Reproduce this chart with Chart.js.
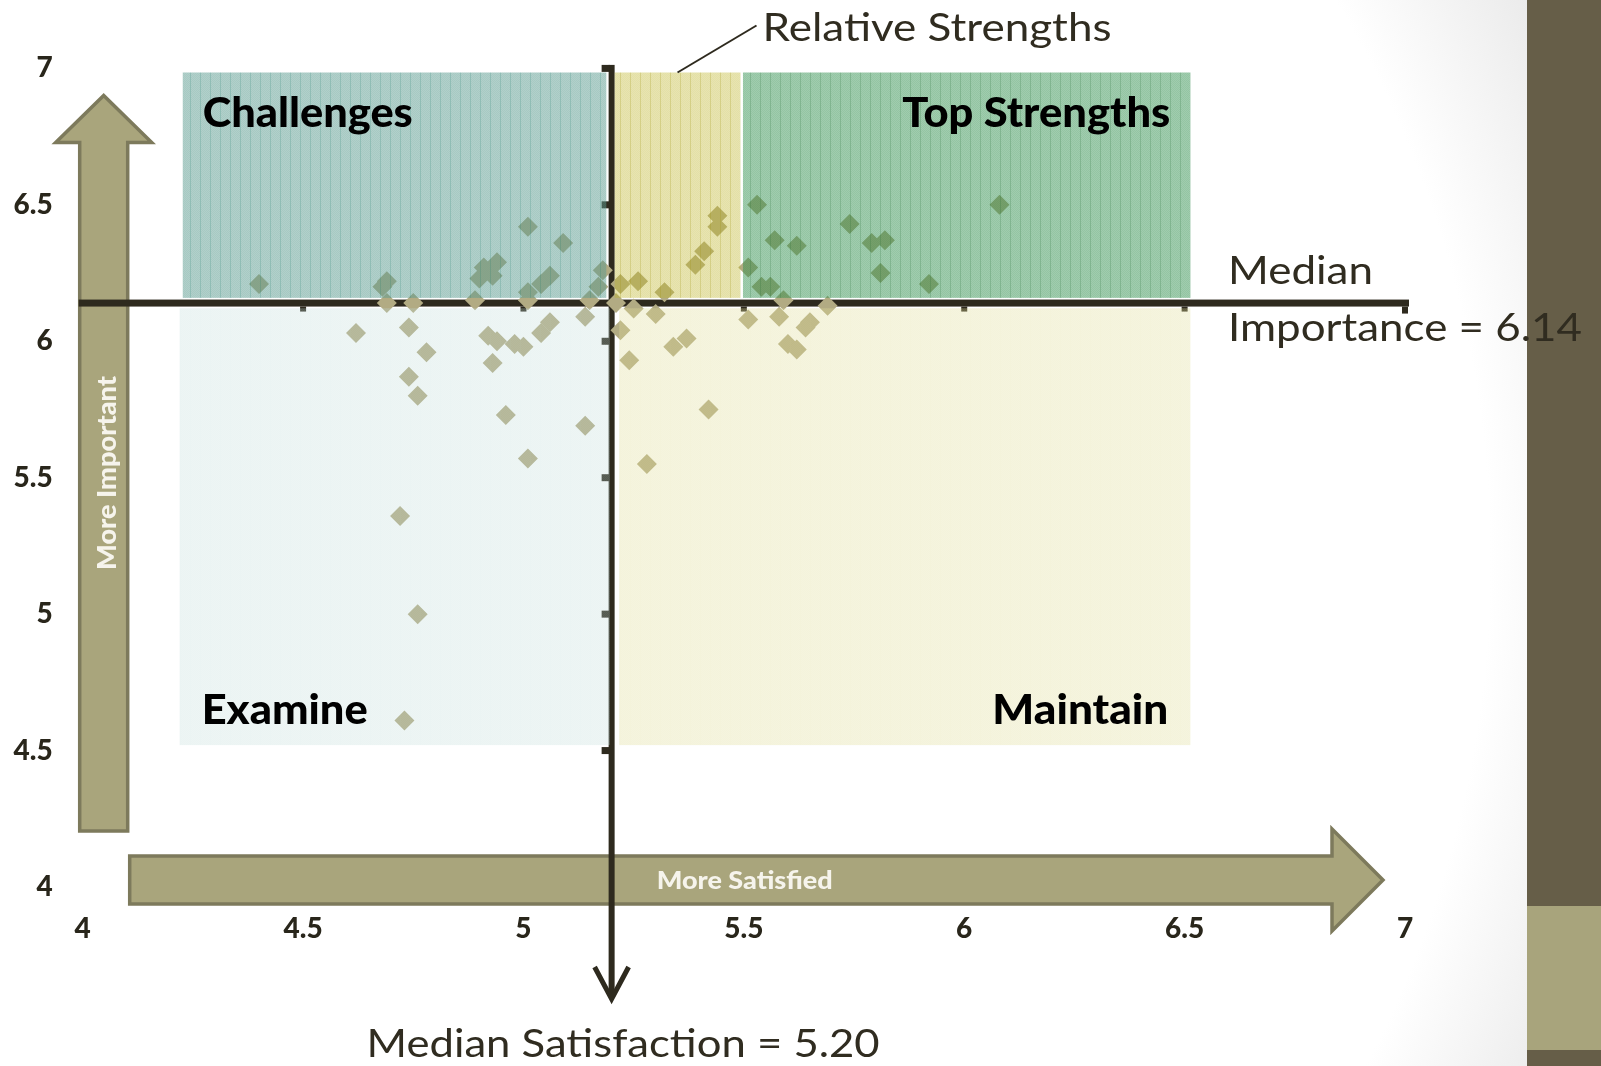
<!DOCTYPE html>
<html>
<head>
<meta charset="utf-8">
<title>Importance vs. Satisfaction</title>
<script src="https://cdn.jsdelivr.net/npm/chart.js@4.4.1/dist/chart.umd.min.js"></script>
<style>
  html, body { margin: 0; padding: 0; }
  body {
    width: 1601px; height: 1066px; overflow: hidden; position: relative;
    background: radial-gradient(circle at 400px 560px, #ffffff 1090px, #e6e6e6 1300px);
  }
  #sideBar { position: absolute; left: 1527px; top: 0; width: 74px; height: 1066px; background: #665e48; }
  #sideBar .band { position: absolute; left: 0; top: 906px; width: 74px; height: 144px; background: #a8a47c; }
  #wrap { position: absolute; left: 0; top: 0; width: 1601px; height: 1066px; }
  canvas { display: block; }
</style>
</head>
<body>
<div id="sideBar"><div class="band"></div></div>
<div id="wrap"><canvas id="chart" width="1601" height="1066"></canvas></div>
<script>
// ---- data -------------------------------------------------------------
// one entry per survey item: mean satisfaction (x) and mean importance (y)
const satisfaction = [
  4.40, 4.69, 4.68, 5.01, 5.09, 4.91, 4.94, 4.93, 4.90, 5.06, 5.04, 5.01, 5.18, 5.17, 5.15,
  4.69, 4.75, 4.89, 5.01, 5.21, 5.25, 5.30, 5.69, 5.59, 5.32,
  5.44, 5.44, 5.41, 5.39, 5.26, 5.22,
  5.53, 5.57, 5.62, 5.74, 5.79, 5.82, 5.81, 5.92, 6.08, 5.51, 5.54, 5.56,
  5.51, 5.58, 5.65, 5.64, 5.60, 5.62, 5.22, 5.24, 5.34, 5.37, 5.42, 5.28,
  4.62, 4.74, 4.78, 4.92, 4.94, 4.93, 4.98, 5.00, 5.04, 5.06, 5.14, 4.74, 4.76, 4.96, 5.14,
  5.01, 4.72, 4.76, 4.73
];
const importance = [
  6.21, 6.22, 6.20, 6.42, 6.36, 6.27, 6.29, 6.24, 6.23, 6.24, 6.21, 6.18, 6.26, 6.20, 6.15,
  6.14, 6.14, 6.15, 6.15, 6.14, 6.12, 6.10, 6.13, 6.15, 6.18,
  6.46, 6.42, 6.33, 6.28, 6.22, 6.21,
  6.50, 6.37, 6.35, 6.43, 6.36, 6.37, 6.25, 6.21, 6.50, 6.27, 6.20, 6.20,
  6.08, 6.09, 6.07, 6.05, 5.99, 5.97, 6.04, 5.93, 5.98, 6.01, 5.75, 5.55,
  6.03, 6.05, 5.96, 6.02, 6.00, 5.92, 5.99, 5.98, 6.03, 6.07, 6.09, 5.87, 5.80, 5.73, 5.69,
  5.57, 5.36, 5.00, 4.61
];
const xTickValues = [4, 4.5, 5, 5.5, 6, 6.5, 7];
const yTickValues = [4, 4.5, 5, 5.5, 6, 6.5, 7];
const medianSatisfaction = 5.20;
const medianImportance = 6.14;

// quadrant zones (in satisfaction / importance units)
const zoneNames = ['Challenges', 'Relative Strengths', 'Top Strengths', 'Examine', 'Maintain'];
const zoneXMin  = [4.227, 5.207, 5.498, 4.220, 5.217];
const zoneXMax  = [5.188, 5.492, 6.513, 5.196, 6.513];
const zoneYMin  = [6.159, 6.159, 6.159, 4.520, 4.520];
const zoneYMax  = [6.985, 6.985, 6.985, 6.121, 6.121];

// ---- styling ----------------------------------------------------------
const INK = '#2e2a1e';
const TEXT_DARK = '#302c20';
const ARROW_FILL = '#a9a57c';
const ARROW_EDGE = '#7d7a5c';
const POINT_COLOR = '#b2ab83';
const FONT = 'Lato, "Open Sans", sans-serif';
const HEAVY = '900';

// translucent hatched fills laid over the points: [base, lighter dither, stripe]
const zoneFills = [
  ['rgba(92,156,144,0.54)',  'rgba(92,156,144,0.48)',  'rgba(70,145,132,0.60)'],
  ['rgba(191,182,44,0.42)',  'rgba(191,182,44,0.37)',  'rgba(176,166,32,0.54)'],
  ['rgba(45,141,75,0.51)',   'rgba(45,141,75,0.45)',   'rgba(38,128,64,0.58)'],
  ['rgba(192,218,215,0.31)', 'rgba(192,218,215,0.27)', 'rgba(192,218,215,0.31)'],
  ['rgba(224,220,153,0.35)', 'rgba(224,220,153,0.31)', 'rgba(224,220,153,0.35)']
];

function zonePattern(ctx, fill) {
  const c = document.createElement('canvas');
  c.width = 10; c.height = 2;
  const g = c.getContext('2d');
  for (let y = 0; y < 2; y++) {
    for (let x = 0; x < 10; x++) {
      g.fillStyle = x === 0 ? fill[2] : ((x + y) % 2 ? fill[1] : fill[0]);
      g.fillRect(x, y, 1, 1);
    }
  }
  return ctx.createPattern(c, 'repeat');
}

// draws text squeezed/stretched to a given width, left edge at x
function fitText(ctx, text, x, baseline, width, size, weight, color) {
  ctx.save();
  ctx.font = `${weight} ${size}px ${FONT}`;
  const w = ctx.measureText(text).width || 1;
  ctx.translate(x, baseline);
  ctx.scale(width / w, 1);
  ctx.textAlign = 'left';
  ctx.textBaseline = 'alphabetic';
  ctx.fillStyle = color;
  ctx.fillText(text, 0, 0);
  ctx.restore();
}

function polygon(ctx, pts) {
  ctx.beginPath();
  pts.forEach((p, i) => (i ? ctx.lineTo(p[0], p[1]) : ctx.moveTo(p[0], p[1])));
  ctx.closePath();
}

function blockArrow(ctx, pts) {
  ctx.save();
  polygon(ctx, pts);
  ctx.fillStyle = ARROW_FILL;
  ctx.fill();
  ctx.lineWidth = 3.5;
  ctx.lineJoin = 'miter';
  ctx.strokeStyle = ARROW_EDGE;
  ctx.stroke();
  ctx.restore();
}

// ---- background layer: direction arrows, median axes ------------------
const quadrantBackdrop = {
  id: 'quadrantBackdrop',
  beforeDatasetsDraw(chart) {
    const { ctx, chartArea: a, scales: { x: xs, y: ys } } = chart;
    const L = a.left, R = a.right, T = a.top, B = a.bottom;

    // "More Important" arrow, pointing up
    blockArrow(ctx, [
      [L + 21, T + 27], [L + 69, T + 74], [L + 45, T + 74], [L + 45, B - 56],
      [L - 3, B - 56], [L - 3, T + 74], [L - 27, T + 74]
    ]);
    // "More Satisfied" arrow, pointing right
    blockArrow(ctx, [
      [L + 47, B - 31], [R - 73, B - 31], [R - 73, B - 58], [R - 22, B - 7],
      [R - 73, B + 44], [R - 73, B + 17], [L + 47, B + 17]
    ]);

    const mx = xs.getPixelForValue(medianSatisfaction);
    const my = ys.getPixelForValue(medianImportance);
    const xEnd = xs.getPixelForValue(xTickValues[xTickValues.length - 1]);
    const yTop = ys.getPixelForValue(yTickValues[yTickValues.length - 1]);

    ctx.save();
    ctx.fillStyle = INK;
    // horizontal axis through the median importance
    ctx.fillRect(L - 4, my - 3.5, xEnd + 4 - (L - 4), 7);
    xTickValues.slice(1).forEach(v => {
      const px = xs.getPixelForValue(v);
      ctx.fillRect(px - 3, my + 3.5, 6, v === 7 ? 7 : 5);
    });
    // vertical axis through the median satisfaction, running on into a pointer
    const tipY = B + 114;
    ctx.fillRect(mx - 3, yTop - 3.5, 6, tipY - 4 - (yTop - 3.5));
    yTickValues.slice(1).forEach(v => {
      const py = ys.getPixelForValue(v);
      ctx.fillRect(mx - 10, py - 3.5, 8, 7);
    });
    ctx.strokeStyle = INK;
    ctx.lineWidth = 5;
    ctx.lineJoin = 'miter';
    ctx.lineCap = 'butt';
    ctx.beginPath();
    ctx.moveTo(mx - 17, tipY - 34);
    ctx.lineTo(mx, tipY - 2);
    ctx.lineTo(mx + 17, tipY - 34);
    ctx.stroke();
    ctx.restore();
  },

  // translucent quadrant panels over the points, then all annotations
  afterDatasetsDraw(chart) {
    const { ctx, chartArea: a, scales: { x: xs, y: ys } } = chart;
    const L = a.left, R = a.right, B = a.bottom;
    const mx = xs.getPixelForValue(medianSatisfaction);
    const my = ys.getPixelForValue(medianImportance);

    const boxes = zoneNames.map((_, i) => {
      const x0 = xs.getPixelForValue(zoneXMin[i]);
      const x1 = xs.getPixelForValue(zoneXMax[i]);
      const y0 = ys.getPixelForValue(zoneYMax[i]);
      const y1 = ys.getPixelForValue(zoneYMin[i]);
      return { x0, x1, y0, y1 };
    });

    ctx.save();
    boxes.forEach((b, i) => {
      ctx.fillStyle = zonePattern(ctx, zoneFills[i]);
      ctx.fillRect(b.x0, b.y0, b.x1 - b.x0, b.y1 - b.y0);
    });
    ctx.restore();

    // quadrant titles
    const bold = 41;
    let b = boxes[0];
    fitText(ctx, zoneNames[0], b.x0 + 20, b.y0 + 55, 210, bold, HEAVY, '#000');
    b = boxes[2];
    fitText(ctx, zoneNames[2], b.x1 - 20 - 268, b.y0 + 55, 268, bold, HEAVY, '#000');
    b = boxes[3];
    fitText(ctx, zoneNames[3], b.x0 + 22, b.y1 - 21.5, 166, bold, HEAVY, '#000');
    b = boxes[4];
    fitText(ctx, zoneNames[4], b.x1 - 22 - 176, b.y1 - 21.5, 176, bold, HEAVY, '#000');

    // callout for the narrow "Relative Strengths" band
    b = boxes[1];
    const cx = (b.x0 + b.x1) / 2;
    ctx.save();
    ctx.strokeStyle = INK;
    ctx.lineWidth = 2;
    ctx.beginPath();
    ctx.moveTo(cx, b.y0);
    ctx.lineTo(cx + 79, b.y0 - 47);
    ctx.stroke();
    ctx.restore();
    fitText(ctx, zoneNames[1], cx + 85, b.y0 - 31, 349, 38, 'normal', TEXT_DARK);

    // median captions
    fitText(ctx, 'Median', R - 177, my - 19, 145, 38, 'normal', TEXT_DARK);
    fitText(ctx, 'Importance = ' + medianImportance.toFixed(2), R - 177, my + 38, 354, 38, 'normal', TEXT_DARK);
    fitText(ctx, 'Median Satisfaction = ' + medianSatisfaction.toFixed(2), mx - 245, B + 169.5, 513, 38, 'normal', TEXT_DARK);

    // arrow captions
    fitText(ctx, 'More Satisfied', L + 574, B + 2, 176, 25, HEAVY, '#f6f4ec');
    ctx.save();
    ctx.translate(L + 33.5, 0);
    ctx.rotate(-Math.PI / 2);
    fitText(ctx, 'More Important', -(473 + 97), 0, 194, 26, HEAVY, '#f6f4ec');
    ctx.restore();
  }
};

function build() {
  const ctx = document.getElementById('chart').getContext('2d');
  const tickFont = { family: FONT, size: 28, weight: HEAVY };
  const tickLabel = v => String(Math.round(v * 10) / 10);
  new Chart(ctx, {
    type: 'scatter',
    data: {
      datasets: [{
        data: satisfaction.map((x, i) => ({ x, y: importance[i] })),
        pointStyle: 'rectRot',
        pointRadius: 10,
        pointHoverRadius: 10,
        backgroundColor: POINT_COLOR,
        borderWidth: 0
      }]
    },
    options: {
      responsive: false,
      animation: false,
      devicePixelRatio: 1,
      layout: { padding: { left: 12, right: 196, top: 68.4, bottom: 119 } },
      plugins: { legend: { display: false }, tooltip: { enabled: false } },
      events: [],
      scales: {
        x: {
          type: 'linear', min: 4, max: 7,
          afterBuildTicks: s => { s.ticks = xTickValues.map(v => ({ value: v })); },
          afterFit: s => { s.height = 60; },
          grid: { display: false, drawTicks: false },
          border: { display: false },
          ticks: { font: tickFont, color: '#29261b', padding: 25, maxRotation: 0, autoSkip: false, callback: tickLabel }
        },
        y: {
          type: 'linear', min: 4, max: 7,
          afterBuildTicks: s => { s.ticks = yTickValues.map(v => ({ value: v })); },
          afterFit: s => { s.width = 70.7; },
          grid: { display: false, drawTicks: false },
          border: { display: false },
          ticks: { font: tickFont, color: '#29261b', padding: 30, autoSkip: false, callback: tickLabel }
        }
      }
    },
    plugins: [quadrantBackdrop]
  });
}

const fontReady = (document.fonts && document.fonts.load)
  ? Promise.all([document.fonts.load('900 28px Lato'), document.fonts.load('38px Lato')])
  : Promise.resolve();
fontReady.catch(() => {}).then(build);
</script>
</body>
</html>
